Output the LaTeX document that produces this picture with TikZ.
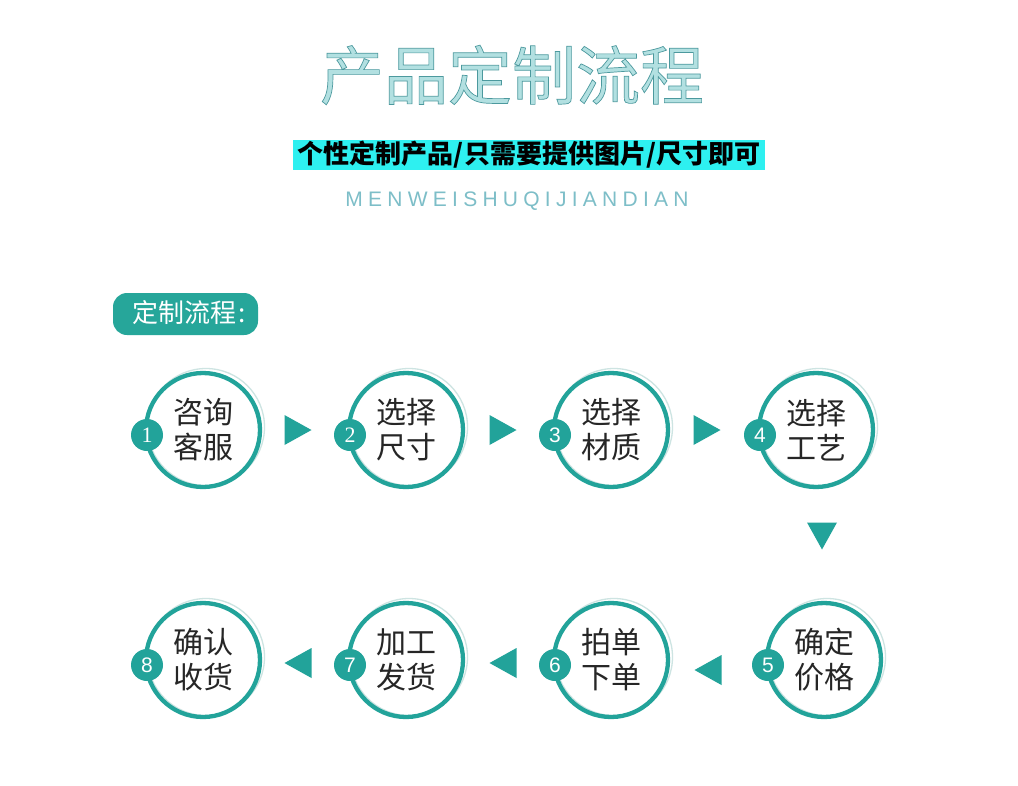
\documentclass[tikz,border=0pt]{standalone}
\usepackage{fontspec}
\newfontfamily\cjk{Noto Sans CJK SC}
\newfontfamily\latinsans{Liberation Sans}
\newfontfamily\latinserif{Liberation Serif}
\newfontfamily\spaced{Liberation Sans}[LetterSpace=25]
\usetikzlibrary{calc}
\definecolor{tealA}{RGB}{34,163,154}
\definecolor{tealLabel}{RGB}{38,166,154}
\definecolor{haloC}{RGB}{205,228,226}
\definecolor{titlefill}{RGB}{178,224,225}
\definecolor{cyanbar}{RGB}{46,240,240}
\definecolor{engC}{RGB}{125,190,200}
\newcommand\triR[1]{\fill[tri] ($(#1)+(-13.5,-15)$) -- ($(#1)+(13.5,0)$) -- ($(#1)+(-13.5,15)$) -- cycle;}
\newcommand\triL[1]{\fill[tri] ($(#1)+(13.5,-15)$) -- ($(#1)+(-13.5,0)$) -- ($(#1)+(13.5,15)$) -- cycle;}
\newcommand\triD[1]{\fill[tri] ($(#1)+(-15,-13.5)$) -- ($(#1)+(15,-13.5)$) -- ($(#1)+(0,13.5)$) -- cycle;}
\begin{document}
\begin{tikzpicture}[x=1pt,y=-1pt,
  ring/.style={circle, draw=tealA, line width=4.3pt, minimum size=114pt, inner sep=0pt,
    align=center, font=\cjk\fontsize{30}{35}\selectfont, text=black!85},
  halo/.style={circle, draw=haloC, line width=1.3pt, minimum size=117pt, inner sep=0pt},
  badge/.style={circle, fill=tealA, minimum size=32pt, inner sep=0pt, text=white, font=\latinsans\fontsize{21}{21}\selectfont},
  badgeserif/.style={badge, font=\latinserif\fontsize{22}{22}\selectfont},
  tri/.style={fill=tealA}
]
\useasboundingbox (0,0) rectangle (1018,785);
\fill[white] (0,0) rectangle (1018,785);

% title
\node (title) at (512,75) {\cjk\fontsize{64}{64}\selectfont\color{titlefill}\special{pdf:literal direct 2 Tr 0.7 w 0.30 0.60 0.62 RG}产品定制流程\special{pdf:literal direct 0 Tr}};

% subtitle bar
\node[fill=cyanbar, minimum width=472pt, minimum height=30pt, inner sep=0pt,
  font=\cjk\bfseries\fontsize{26}{26}\selectfont] (sub) at (529,155) {个性定制产品/只需要提供图片/尺寸即可};

% english spaced text
\node[text=engC, font=\spaced\fontsize{21}{21}\selectfont, inner sep=0pt] (eng) at (517,201) {MENWEISHUQIJIANDIAN};

% label
\node[fill=tealLabel, rounded corners=14pt, minimum width=145pt, minimum height=42pt, inner sep=0pt] (lbl) at (185.5,314) {};
\node[text=white, font=\cjk\fontsize{26}{26}\selectfont, inner sep=0pt] (lbltxt) at (189,313) {定制流程\hspace{2pt}:};

% top row
\node[halo] (h1) at (206,427) {};
\node[halo] (h2) at (409,427) {};
\node[halo] (h3) at (614,427) {};
\node[halo] (h4) at (819,427) {};
\node[ring] (c1) at (203,430) {咨询\\客服};
\node[ring] (c2) at (406,430) {选择\\尺寸};
\node[ring] (c3) at (611,430) {选择\\材质};
\node[ring] (c4) at (816,430) {选择\\工艺};
\node[badgeserif] (b1) at ($(c1.center)+(-56,5)$) {1};
\node[badgeserif] (b2) at ($(c2.center)+(-56,5)$) {2};
\node[badge] (b3) at ($(c3.center)+(-56,5)$) {3};
\node[badge] (b4) at ($(c4.center)+(-56,5)$) {4};

% bottom row
\node[halo] (h8) at (206,657) {};
\node[halo] (h7) at (409,657) {};
\node[halo] (h6) at (614,657) {};
\node[halo] (h5) at (827,657) {};
\node[ring] (c8) at (203,660) {确认\\收货};
\node[ring] (c7) at (406,660) {加工\\发货};
\node[ring] (c6) at (611,660) {拍单\\下单};
\node[ring] (c5) at (824,660) {确定\\价格};
\node[badge] (b8) at ($(c8.center)+(-56,5)$) {8};
\node[badge] (b7) at ($(c7.center)+(-56,5)$) {7};
\node[badge] (b6) at ($(c6.center)+(-56,5)$) {6};
\node[badge] (b5) at ($(c5.center)+(-56,5)$) {5};

% arrows
\coordinate (a12) at (298,430);
\coordinate (a23) at (503,430);
\coordinate (a34) at (707,430);
\coordinate (a45) at (822,536);
\coordinate (a56) at (708,670);
\coordinate (a67) at (503,663);
\coordinate (a78) at (298,663);
\triR{a12}
\triR{a23}
\triR{a34}
\triD{a45}
\triL{a56}
\triL{a67}
\triL{a78}
\end{tikzpicture}
\end{document}
